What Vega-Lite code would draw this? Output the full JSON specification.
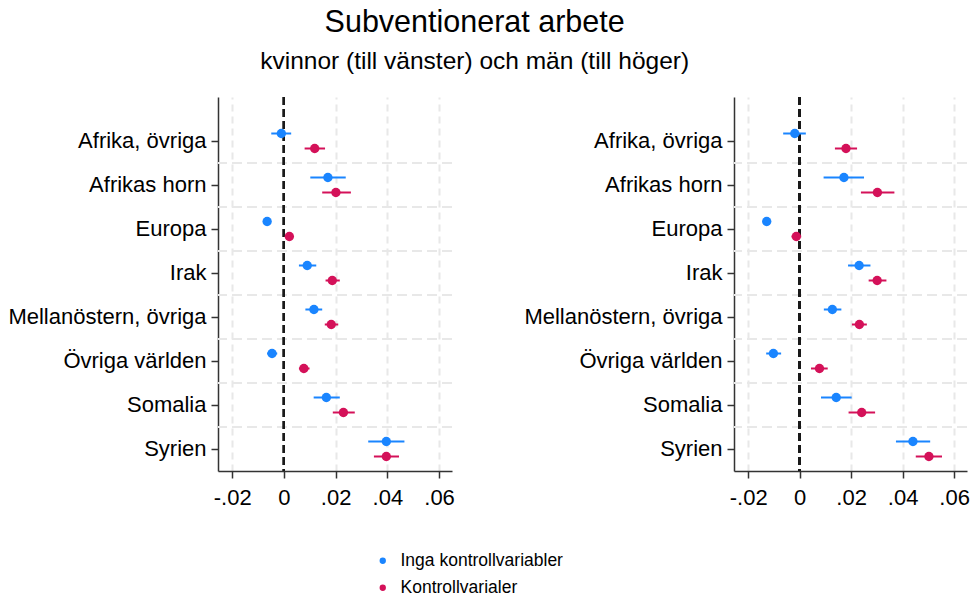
{
  "$schema": "https://vega.github.io/schema/vega-lite/v6.json",
  "background": "white",
  "padding": {"left": 7, "top": 8, "right": 3, "bottom": 5},
  "bounds": "flush",
  "title": {
    "text": "Subventionerat arbete",
    "subtitle": "kvinnor (till vänster) och män (till höger)",
    "anchor": "middle",
    "dx": -14,
    "font": "Liberation Sans",
    "fontSize": 30.5,
    "fontWeight": "normal",
    "color": "#000000",
    "subtitleFont": "Liberation Sans",
    "subtitleFontSize": 24.5,
    "subtitleColor": "#000000",
    "subtitlePadding": 11,
    "offset": 23
  },
  "data": {
    "values": [
      {"panel": "Kvinnor", "region": "Afrika, övriga", "series": "Inga kontrollvariabler", "est": -0.001, "lo": -0.0049, "hi": 0.0028},
      {"panel": "Kvinnor", "region": "Afrika, övriga", "series": "Kontrollvarialer", "est": 0.0119, "lo": 0.008, "hi": 0.0159},
      {"panel": "Kvinnor", "region": "Afrikas horn", "series": "Inga kontrollvariabler", "est": 0.017, "lo": 0.0102, "hi": 0.0239},
      {"panel": "Kvinnor", "region": "Afrikas horn", "series": "Kontrollvarialer", "est": 0.0201, "lo": 0.0148, "hi": 0.0259},
      {"panel": "Kvinnor", "region": "Europa", "series": "Inga kontrollvariabler", "est": -0.0065, "lo": -0.0072, "hi": -0.0058},
      {"panel": "Kvinnor", "region": "Europa", "series": "Kontrollvarialer", "est": 0.0021, "lo": 0.0014, "hi": 0.0028},
      {"panel": "Kvinnor", "region": "Irak", "series": "Inga kontrollvariabler", "est": 0.009, "lo": 0.0058, "hi": 0.0125},
      {"panel": "Kvinnor", "region": "Irak", "series": "Kontrollvarialer", "est": 0.0187, "lo": 0.0161, "hi": 0.0216},
      {"panel": "Kvinnor", "region": "Mellanöstern, övriga", "series": "Inga kontrollvariabler", "est": 0.0116, "lo": 0.0083, "hi": 0.0148},
      {"panel": "Kvinnor", "region": "Mellanöstern, övriga", "series": "Kontrollvarialer", "est": 0.0183, "lo": 0.0158, "hi": 0.021},
      {"panel": "Kvinnor", "region": "Övriga världen", "series": "Inga kontrollvariabler", "est": -0.0046, "lo": -0.0065, "hi": -0.0026},
      {"panel": "Kvinnor", "region": "Övriga världen", "series": "Kontrollvarialer", "est": 0.0077, "lo": 0.0058, "hi": 0.0099},
      {"panel": "Kvinnor", "region": "Somalia", "series": "Inga kontrollvariabler", "est": 0.0164, "lo": 0.0115, "hi": 0.0216},
      {"panel": "Kvinnor", "region": "Somalia", "series": "Kontrollvarialer", "est": 0.023, "lo": 0.0189, "hi": 0.0274},
      {"panel": "Kvinnor", "region": "Syrien", "series": "Inga kontrollvariabler", "est": 0.0396, "lo": 0.0326, "hi": 0.0466},
      {"panel": "Kvinnor", "region": "Syrien", "series": "Kontrollvarialer", "est": 0.0396, "lo": 0.0348, "hi": 0.0445},
      {"panel": "Män", "region": "Afrika, övriga", "series": "Inga kontrollvariabler", "est": -0.0019, "lo": -0.0064, "hi": 0.0024},
      {"panel": "Män", "region": "Afrika, övriga", "series": "Kontrollvarialer", "est": 0.018, "lo": 0.0137, "hi": 0.0223},
      {"panel": "Män", "region": "Afrikas horn", "series": "Inga kontrollvariabler", "est": 0.0172, "lo": 0.0093, "hi": 0.025},
      {"panel": "Män", "region": "Afrikas horn", "series": "Kontrollvarialer", "est": 0.0302, "lo": 0.0238, "hi": 0.0368},
      {"panel": "Män", "region": "Europa", "series": "Inga kontrollvariabler", "est": -0.0128, "lo": -0.0135, "hi": -0.0121},
      {"panel": "Män", "region": "Europa", "series": "Kontrollvarialer", "est": -0.0013, "lo": -0.0031, "hi": 0.0006},
      {"panel": "Män", "region": "Irak", "series": "Inga kontrollvariabler", "est": 0.0231, "lo": 0.0188, "hi": 0.0275},
      {"panel": "Män", "region": "Irak", "series": "Kontrollvarialer", "est": 0.0301, "lo": 0.0268, "hi": 0.0337},
      {"panel": "Män", "region": "Mellanöstern, övriga", "series": "Inga kontrollvariabler", "est": 0.0127, "lo": 0.0094, "hi": 0.0162},
      {"panel": "Män", "region": "Mellanöstern, övriga", "series": "Kontrollvarialer", "est": 0.0232, "lo": 0.0203, "hi": 0.0261},
      {"panel": "Män", "region": "Övriga världen", "series": "Inga kontrollvariabler", "est": -0.0102, "lo": -0.013, "hi": -0.0072},
      {"panel": "Män", "region": "Övriga världen", "series": "Kontrollvarialer", "est": 0.0077, "lo": 0.0044, "hi": 0.0109},
      {"panel": "Män", "region": "Somalia", "series": "Inga kontrollvariabler", "est": 0.0142, "lo": 0.0083, "hi": 0.0202},
      {"panel": "Män", "region": "Somalia", "series": "Kontrollvarialer", "est": 0.0241, "lo": 0.019, "hi": 0.0293},
      {"panel": "Män", "region": "Syrien", "series": "Inga kontrollvariabler", "est": 0.044, "lo": 0.0374, "hi": 0.0507},
      {"panel": "Män", "region": "Syrien", "series": "Kontrollvarialer", "est": 0.0502, "lo": 0.0451, "hi": 0.0553}
    ]
  },
  "hconcat": [
    {
      "width": 234,
      "height": 374,
      "transform": [{"filter": "datum.panel === 'Kvinnor'"}],
      "encoding": {
        "y": {"field": "region", "type": "nominal",
          "sort": ["Afrika, övriga", "Afrikas horn", "Europa", "Irak", "Mellanöstern, övriga", "Övriga världen", "Somalia", "Syrien"],
          "scale": {"paddingInner": 0, "paddingOuter": 0.25, "align": 1}},
        "x": {"field": "est", "type": "quantitative",
          "scale": {"domain": [-0.0255, 0.065], "nice": false, "zero": false},
          "axis": {"values": [-0.02, 0, 0.02, 0.04, 0.06]}}
      },
      "layer": [
        {
          "transform": [{"filter": "datum.series === 'Inga kontrollvariabler' && datum.region !== 'Afrika, övriga'"}],
          "mark": {"type": "rule", "color": "#e8e8e8", "strokeWidth": 2, "strokeDash": [10, 5]},
          "encoding": {
            "y": {"field": "region", "type": "nominal", "bandPosition": 0,
              "sort": ["Afrika, övriga", "Afrikas horn", "Europa", "Irak", "Mellanöstern, övriga", "Övriga världen", "Somalia", "Syrien"]},
            "x": null
          }
        },
        {
          "mark": {"type": "rule", "color": "#1a1a1a", "strokeWidth": 2, "strokeDash": [8, 4]},
          "encoding": {"x": {"datum": 0}, "y": null}
        },
        {
          "mark": {"type": "rule", "strokeWidth": 2},
          "encoding": {
            "yOffset": {"field": "series", "type": "nominal", "scale": {"paddingInner": 0, "paddingOuter": 0.467}},
            "x": {"field": "lo", "type": "quantitative"},
            "x2": {"field": "hi"},
            "color": {"field": "series", "type": "nominal",
              "legend": {"orient": "none", "legendX": 156, "legendY": 455}}
          }
        },
        {
          "mark": {"type": "circle", "size": 88, "opacity": 1},
          "encoding": {
            "yOffset": {"field": "series", "type": "nominal", "scale": {"paddingInner": 0, "paddingOuter": 0.467}},
            "color": {"field": "series", "type": "nominal",
              "legend": {"orient": "none", "legendX": 156, "legendY": 455}}
          }
        }
      ]
    },
    {
      "width": 233,
      "height": 374,
      "transform": [{"filter": "datum.panel === 'Män'"}],
      "encoding": {
        "y": {"field": "region", "type": "nominal",
          "sort": ["Afrika, övriga", "Afrikas horn", "Europa", "Irak", "Mellanöstern, övriga", "Övriga världen", "Somalia", "Syrien"],
          "scale": {"paddingInner": 0, "paddingOuter": 0.25, "align": 1}},
        "x": {"field": "est", "type": "quantitative",
          "scale": {"domain": [-0.0255, 0.065], "nice": false, "zero": false},
          "axis": {"values": [-0.02, 0, 0.02, 0.04, 0.06]}}
      },
      "layer": [
        {
          "transform": [{"filter": "datum.series === 'Inga kontrollvariabler' && datum.region !== 'Afrika, övriga'"}],
          "mark": {"type": "rule", "color": "#e8e8e8", "strokeWidth": 2, "strokeDash": [10, 5]},
          "encoding": {
            "y": {"field": "region", "type": "nominal", "bandPosition": 0,
              "sort": ["Afrika, övriga", "Afrikas horn", "Europa", "Irak", "Mellanöstern, övriga", "Övriga världen", "Somalia", "Syrien"]},
            "x": null
          }
        },
        {
          "mark": {"type": "rule", "color": "#1a1a1a", "strokeWidth": 2, "strokeDash": [8, 4]},
          "encoding": {"x": {"datum": 0}, "y": null}
        },
        {
          "mark": {"type": "rule", "strokeWidth": 2},
          "encoding": {
            "yOffset": {"field": "series", "type": "nominal", "scale": {"paddingInner": 0, "paddingOuter": 0.467}},
            "x": {"field": "lo", "type": "quantitative"},
            "x2": {"field": "hi"},
            "color": {"field": "series", "type": "nominal", "legend": null}
          }
        },
        {
          "mark": {"type": "circle", "size": 88, "opacity": 1},
          "encoding": {
            "yOffset": {"field": "series", "type": "nominal", "scale": {"paddingInner": 0, "paddingOuter": 0.467}},
            "color": {"field": "series", "type": "nominal", "legend": null}
          }
        }
      ]
    }
  ],
  "spacing": 282,
  "resolve": {"scale": {"x": "independent", "y": "independent"}, "legend": {"color": "independent"}},
  "config": {
    "font": "Liberation Sans",
    "view": {"stroke": null},
    "range": {"category": ["#1A85FF", "#D41159"]},
    "axisX": {
      "title": null,
      "labelExpr": "datum.value == 0 ? '0' : (datum.value < 0 ? '-' : '') + replace(format(abs(datum.value), '.2f'), '0.', '.')",
      "labelFontSize": 22,
      "labelColor": "#000000",
      "labelPadding": 9,
      "labelFlush": false,
      "labelOverlap": false,
      "tickSize": 7,
      "tickColor": "#333333",
      "tickWidth": 1.5,
      "domainColor": "#333333",
      "domainWidth": 1.5,
      "grid": true,
      "gridColor": "#e8e8e8",
      "gridWidth": 2,
      "gridDash": [7, 5],
      "gridOpacity": {"condition": {"test": "datum.value === 0", "value": 0}, "value": 1}
    },
    "axisY": {
      "title": null,
      "labelFontSize": 22,
      "labelColor": "#000000",
      "labelPadding": 5,
      "labelLimit": 400,
      "tickSize": 7,
      "tickColor": "#333333",
      "tickWidth": 1.5,
      "domainColor": "#333333",
      "domainWidth": 1.5,
      "grid": false
    },
    "legend": {
      "direction": "vertical",
      "title": null,
      "labelFontSize": 17.5,
      "labelColor": "#000000",
      "labelLimit": 400,
      "symbolType": "circle",
      "symbolSize": 40,
      "symbolStrokeWidth": 0,
      "rowPadding": 8,
      "labelOffset": 9
    }
  }
}
